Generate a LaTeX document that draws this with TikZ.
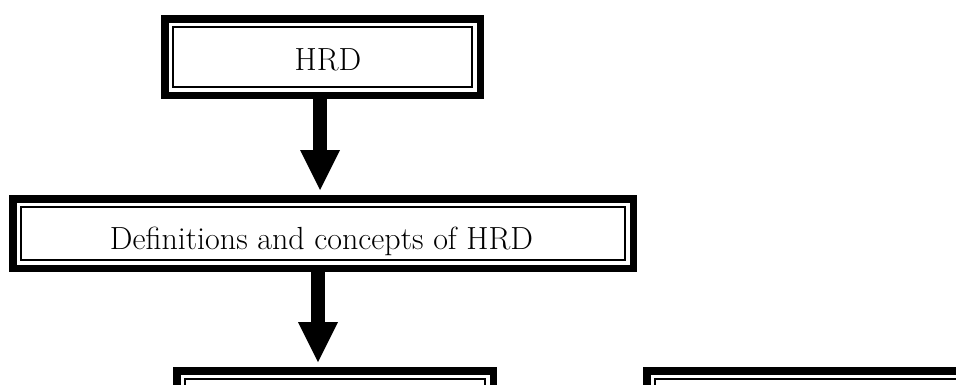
\documentclass[tikz,border=0pt]{standalone}
\usetikzlibrary{arrows.meta,calc}
\begin{document}
\begin{tikzpicture}[x=1pt,y=-1pt,
  frame/.style={draw=black, line width=7.5pt, inner sep=0pt, outer sep=0pt, anchor=north west,
    append after command={\pgfextra{\draw[line width=2pt] ($(\tikzlastnode.north west)+(8,8)$) rectangle ($(\tikzlastnode.south east)+(-8,-8)$);}}},
  lbl/.style={anchor=base, inner sep=0pt, font=\fontsize{32}{38}\selectfont},
  bigarrow/.style={line width=14pt, -{Triangle[width=40pt,length=40pt,line width=0pt]}}]
\useasboundingbox (0,0) rectangle (956,384);
\clip (0,0) rectangle (956,384);
% boxes
\node[frame, minimum width=315.5pt, minimum height=76.5pt] (b1) at (164.75,18.75) {};
\node[frame, minimum width=620.5pt, minimum height=69.5pt] (b2) at (12.75,198.75) {};
\node[frame, minimum width=316.5pt, minimum height=70pt] (b3) at (176.75,370.75) {};
\node[frame, minimum width=400pt, minimum height=70pt] (b4) at (646.75,370.75) {};
% texts
\node[lbl] (t1) at (328,70) {HRD};
\node[lbl] (t2) at (321.5,249) {Definitions and concepts of HRD};
% arrows
\coordinate (tip1) at (320,190);
\coordinate (tip2) at (318,362);
\draw[bigarrow] (tip1 |- b1.south) -- (tip1);
\draw[bigarrow] (tip2 |- b2.south) -- (tip2);
\end{tikzpicture}
\end{document}
